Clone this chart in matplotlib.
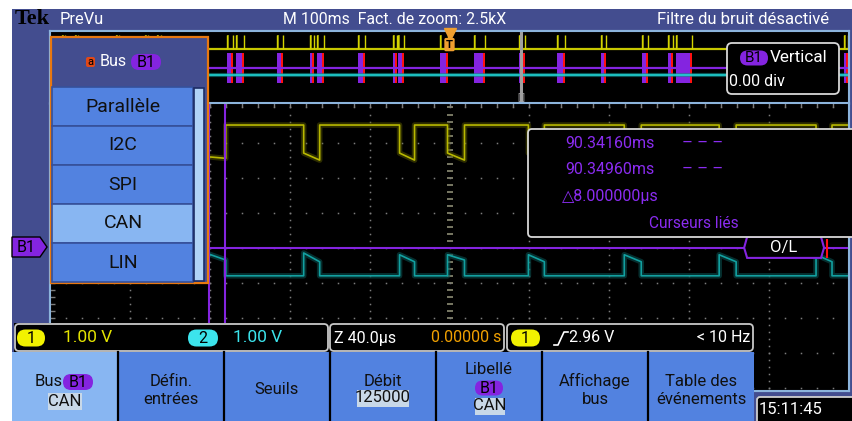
import numpy as np
import matplotlib
matplotlib.use("Agg")
import matplotlib.pyplot as plt
from matplotlib.patches import Rectangle, FancyBboxPatch, Polygon

W, H = 852, 421
FONT = ['Liberation Sans Narrow', 'Roboto', 'DejaVu Sans']
plt.rcParams['font.family'] = FONT

# overview record (M 100ms/div), packet times in ms from the left edge
ov_start_ms = [15, 31, 82, 119, 134, 221, 232.5, 284, 325, 334, 385, 429, 436,
               487.5, 531, 587.5, 635, 690, 741, 774, 784, 994]
ov_end_ms = [19, 35, 86, 123, 139, 229, 242.5, 291, 330, 342.5, 394, 434, 442.5,
             497.5, 545, 594, 645, 696, 749, 780, 804, 999]
zoom_pos_ms = 590
trig_pos_ms = 500

# zoom window (Z 40.0us/div), dominant bits in us from the left edge
dom_start_us = [78, 127, 175, 199, 239.5, 287.5, 335, 383.5]
dom_end_us = [88, 135, 182.5, 207.5, 247.5, 296, 343.5, 391.5]
ch1_rec_v = 2.5
ch1_dom_first = [1.6, 1.7, 1.7, 1.7, 1.7, 1.7, 1.7, 1.7]
ch1_dom_last = [1.55, 1.5, 1.5, 1.5, 1.5, 1.5, 1.5, 1.5]
ch2_rec_v = 2.5
ch2_dom_first = [3.15, 3.15, 3.1, 3.1, 3.1, 3.1, 3.1, 3.1]
ch2_dom_last = [2.95, 2.9, 2.9, 2.95, 2.9, 2.9, 2.9, 2.9]
ch1_pos_div = 1.0
ch2_pos_div = -3.3
cursors_us = [79.75, 87.75]
ol_frame_us = (347.5, 387.5)

menu_items = ["Parallèle", "I2C", "SPI", "CAN", "LIN"]
menu_selected = "CAN"

FRAME = '#434d8f'
ITEM = '#5282e0'
ITEM_SEL = '#88b6f2'
PURPLE = '#8424e0'
GRID = '#7c7c7c'
BORDER = '#8cb4dc'


def px_axes(fig, x0, y0, x1, y1, z):
    ax = fig.add_axes([x0 / W, 1 - y1 / H, (x1 - x0) / W, (y1 - y0) / H])
    ax.set_zorder(z)
    return ax


def rbox(ax, x0, y0, x1, y1, fc, ec, lw=1.2, r=4, z=2):
    ax.add_patch(FancyBboxPatch((x0, y0), x1 - x0, y1 - y0,
                                boxstyle="round,pad=0,rounding_size=%g" % r,
                                fc=fc, ec=ec, lw=lw, zorder=z))


def pill(ax, x0, x1, yc, h, fc, label, size=11, z=4):
    rbox(ax, x0, yc - h / 2, x1, yc + h / 2, fc, 'none', lw=0, r=h / 2, z=z)
    ax.text((x0 + x1) / 2, yc + 0.5, label, color='black', fontsize=size,
            ha='center', va='center', zorder=z + 1)


def step_trace(starts, ends, rec, first, last, t_end):
    t, v = [0.0], [rec]
    for s, e, a, b in zip(starts, ends, first, last):
        t += [s, s, e, e]
        v += [rec, a, b, rec]
    t.append(t_end)
    v.append(rec)
    return np.array(t), np.array(v)


fig = plt.figure(figsize=(W / 100, H / 100), dpi=100)
fig.patch.set_facecolor('white')

# ---------- background frame
bg = px_axes(fig, 0, 0, W, H, 0)
bg.set_xlim(0, W)
bg.set_ylim(H, 0)
bg.axis('off')
bg.add_patch(Rectangle((12, 9), W - 12, H - 9, fc=FRAME, ec='none'))
bg.add_patch(Rectangle((50, 31), 799, 360, fc='black', ec=BORDER, lw=1.5))

# ---------- overview strip
ov = px_axes(fig, 50, 31, 849, 103.5, 1)
ov.set_facecolor('black')
ov.set_xlim(0, 1000)
ov.set_ylim(-4, 4)
ov.set_xticks([])
ov.set_yticks([])
for s in ov.spines.values():
    s.set_color(BORDER)
    s.set_linewidth(1.5)
ov.axhline(2.0, color='#c8c800', lw=1.6)
ov.axhline(-0.85, color='#108c8c', lw=3.0, alpha=0.6)
ov.axhline(-0.85, color='#20d4d4', lw=1.2)
ov.axhline(-0.1, color=PURPLE, lw=1.6)
ov.axvline(zoom_pos_ms, color=PURPLE, lw=1.5)
for s, e in zip(ov_start_ms, ov_end_ms):
    ov.fill_between([s, s + 2.5], 2.0, 3.6, color='#b8b800', alpha=0.7, lw=0)
    ov.vlines([s, e], 2.0, 3.6, color='#d4d400', lw=1.0)
    ov.fill_between([s, e - 1.0], -1.75, 1.55, color=PURPLE, lw=0)
    ov.fill_between([e - 2.5, e], -1.75, 1.55, color='#ff1010', lw=0)
ov.axvline(zoom_pos_ms, ymin=0.05, color='#a0a0a0', lw=2.2)
ov.text(zoom_pos_ms, -3.4, "[ ]", color='#a8a8a8', fontsize=6.5,
        ha='center', va='center')
ov.plot([trig_pos_ms], [3.7], marker='v', ms=9, color='#f0a030',
        clip_on=False, zorder=5)
ov.text(trig_pos_ms, 2.5, "T", color='black', fontsize=8, fontweight='bold',
        ha='center', va='center', zorder=6,
        bbox=dict(boxstyle='round,pad=0.15', fc='#f0a030', ec='none'))

# ---------- zoom window
mn = px_axes(fig, 50, 103.5, 849, 391, 1)
mn.set_facecolor('black')
mn.set_xlim(0, 400)
mn.set_ylim(-4.086, 4.114)
mn.set_xticks([])
mn.set_yticks([])
for s in mn.spines.values():
    s.set_color(BORDER)
    s.set_linewidth(1.5)
for c in np.arange(40, 400, 40):
    yy = np.arange(-4.0, 4.1, 0.2)
    if c == 200:
        mn.plot(np.full(yy.size, c), yy, ls='none', marker='_', ms=5,
                mew=1.2, color='#8c8c74')
    else:
        mn.plot(np.full(yy.size, c), yy, ls='none', marker='s', ms=1.1,
                mew=0, color=GRID)
for r in np.arange(-4, 5, 1):
    xx = np.arange(8, 400, 8)
    mn.plot(xx, np.full(xx.size, r), ls='none', marker='s', ms=1.1, mew=0,
            color=GRID)
mn.vlines(np.arange(8, 400, 8), 4.0, 4.114, color=GRID, lw=1)
mn.hlines(np.arange(-4.0, 4.1, 0.2), 0, 2.5, color=GRID, lw=1)

t1, v1 = step_trace(dom_start_us, dom_end_us, ch1_rec_v, ch1_dom_first,
                    ch1_dom_last, 400)
t2, v2 = step_trace(dom_start_us, dom_end_us, ch2_rec_v, ch2_dom_first,
                    ch2_dom_last, 400)
mn.plot(t1, v1 + ch1_pos_div, color='#5a5a00', lw=4, alpha=0.5)
mn.plot(t1, v1 + ch1_pos_div, color='#b8b800', lw=1.2)
mn.plot(t2, v2 + ch2_pos_div, color='#0a4e4e', lw=4, alpha=0.6)
mn.plot(t2, v2 + ch2_pos_div, color='#12a0a0', lw=1.2)
mn.axhline(0, color=PURPLE, lw=1.5)
for c in cursors_us:
    mn.axvline(c, color=PURPLE, lw=1.5)
a, b = ol_frame_us
mn.add_patch(Polygon([(a, 0), (a + 1.5, 0.31), (b - 1.5, 0.31), (b, 0),
                      (b - 1.5, -0.29), (a + 1.5, -0.29)], closed=True,
                     fc='black', ec=PURPLE, lw=1.5, zorder=4))
mn.vlines(b + 1.5, -0.29, 0.25, color='#ff1010', lw=1.5, zorder=4)
mn.text((a + b) / 2, 0.02, "O/L", color='white', fontsize=12, ha='center',
        va='center', zorder=5)

# ---------- overlay: menus, readouts, status bar, buttons
T = px_axes(fig, 0, 0, W, H, 3)
T.set_xlim(0, W)
T.set_ylim(H, 0)
T.axis('off')

T.text(15, 19, "Tek", family=['Liberation Serif', 'DejaVu Serif'],
       fontweight='bold', fontsize=16, color='black', va='center')
T.text(60, 20, "PreVu", color='white', fontsize=11.8, va='center')
T.text(395, 20, "M 100ms  Fact. de zoom: 2.5kX", color='white',
       fontsize=11.4, va='center', ha='center')
T.text(829, 20, "Filtre du bruit désactivé", color='white', fontsize=12,
       va='center', ha='right')

# bus menu
T.add_patch(Rectangle((51, 37), 157, 246, fc=FRAME, ec='#e87810', lw=1.6,
                      zorder=2))
for i, name in enumerate(menu_items):
    y0 = 87 + 39 * i
    fc = ITEM_SEL if name == menu_selected else ITEM
    T.add_patch(Rectangle((52, y0), 141, 39, fc=fc, ec='#36509a', lw=1.2,
                          zorder=3))
    T.text(123, y0 + 19.5, name, color='#101010', fontsize=14, ha='center',
           va='center', zorder=4)
T.add_patch(Rectangle((194, 88), 10, 193, fc='#b0d2f6', ec='#1c2c64', lw=1.2,
                      zorder=3))
rbox(T, 86, 57, 95, 67, '#e04818', 'none', lw=0, r=2, z=4)
T.text(90.5, 62, "a", color='black', fontsize=8, ha='center', va='center',
       zorder=5)
T.text(100, 62, "Bus", color='white', fontsize=11.5, va='center', zorder=5)
pill(T, 131, 161, 62, 16, PURPLE, "B1", size=11.5)

# B1 ground marker
T.add_patch(Polygon([(12, 237), (40, 237), (47, 247), (40, 257), (12, 257)],
                    closed=True, fc=PURPLE, ec='black', lw=1, zorder=3))
T.text(26, 247, "B1", color='black', fontsize=11.5, ha='center', va='center',
       zorder=4)

# vertical position readout
rbox(T, 727, 43, 839, 94, 'black', '#d8d8d8', lw=1.3, r=5, z=3)
pill(T, 740, 768, 58, 15, PURPLE, "B1", size=11)
T.text(770, 58, "Vertical", color='white', fontsize=12.3, va='center',
       zorder=5)
T.text(729, 81, "0.00 div", color='white', fontsize=11.5, va='center',
       zorder=5)

# cursor readout
rbox(T, 528, 129, 870, 237, 'black', '#d8d8d8', lw=1.3, r=4, z=3)
PTXT = '#8a2cf0'
for yy, lab in [(143, "90.34160ms"), (169, "90.34960ms")]:
    T.text(610, yy, lab, color=PTXT, fontsize=11.5, ha='center',
           va='center', zorder=5)
    T.text(703, yy, "– – –", color=PTXT, fontsize=12, ha='center',
           va='center', zorder=5)
T.text(562, 197, "△8.000000µs", color=PTXT, fontsize=11.5, va='center',
       zorder=5)
T.text(694, 223, "Curseurs liés", color=PTXT, fontsize=11.2, ha='center',
       va='center', zorder=5)

# status bar
T.add_patch(Rectangle((14, 323), 740, 29, fc='black', ec='none', zorder=2))
rbox(T, 15, 324, 328, 351, 'black', '#c8c8c8', lw=1.3, r=4, z=3)
rbox(T, 330, 324, 504, 351, 'black', '#c8c8c8', lw=1.3, r=4, z=3)
rbox(T, 507, 324, 753, 351, 'black', '#c8c8c8', lw=1.3, r=4, z=3)
pill(T, 17, 45, 338, 17, '#f2f200', "1", size=11.5)
T.text(63, 338, "1.00 V", color='#e4e400', fontsize=12.5, va='center',
       zorder=5)
pill(T, 188, 218, 338, 17, '#3ce4ec', "2", size=11.5)
T.text(233, 338, "1.00 V", color='#3ce4ec', fontsize=12.5, va='center',
       zorder=5)
T.text(334, 338, "Z 40.0µs", color='white', fontsize=11.5, va='center',
       zorder=5)
T.text(501, 338, "0.00000 s", color='#f0a000', fontsize=11.5, va='center',
       ha='right', zorder=5)
pill(T, 511, 540, 338, 17, '#f2f200', "1", size=11.5)
T.plot([554, 558, 564, 568], [345, 345, 332, 332], color='white', lw=1.2,
       zorder=5)
T.text(569, 338, "2.96 V", color='white', fontsize=11.5, va='center',
       zorder=5)
T.text(750, 338, "< 10 Hz", color='white', fontsize=11.5, va='center',
       ha='right', zorder=5)

# soft buttons
btn_x = [12, 118, 224, 330, 436, 542, 648, 754]
for i in range(7):
    fc = ITEM_SEL if i == 0 else ITEM
    T.add_patch(Rectangle((btn_x[i], 352), btn_x[i + 1] - btn_x[i], 69,
                          fc=fc, ec='none', zorder=2))
for x in btn_x[1:-1]:
    T.plot([x, x], [352, 421], color='black', lw=1.6, zorder=3)
BT = dict(color='#101010', fontsize=12, ha='center', va='center', zorder=5)
T.text(49, 382, "Bus", **BT)
pill(T, 63, 93, 382, 16, PURPLE, "B1", size=11.5)
T.add_patch(Rectangle((48, 393), 34, 17, fc='#c8d8e8', ec='none', zorder=4))
T.text(65, 401, "CAN", **BT)
T.text(171, 381, "Défin.", **BT)
T.text(171, 400, "entrées", **BT)
T.text(277, 389, "Seuils", **BT)
T.text(383, 381, "Débit", **BT)
T.add_patch(Rectangle((357, 390), 52, 17, fc='#c8d8e8', ec='none', zorder=4))
T.text(383, 398, "125000", **BT)
T.text(489, 369, "Libellé", **BT)
pill(T, 475, 503, 388, 15, PURPLE, "B1", size=11.5)
T.add_patch(Rectangle((475, 398), 30, 17, fc='#c8d8e8', ec='none', zorder=4))
T.text(490, 406, "CAN", **BT)
T.text(595, 381, "Affichage", **BT)
T.text(595, 400, "bus", **BT)
T.text(701, 381, "Table des", **BT)
T.text(701, 400, "événements", **BT)

# clock
rbox(T, 757, 397, 858, 424, 'black', '#d0d0d0', lw=1.3, r=3, z=3)
T.text(759, 410, "15:11:45", color='white', fontsize=12, va='center',
       zorder=5)

fig.savefig("out.png", dpi=100, facecolor='white')
